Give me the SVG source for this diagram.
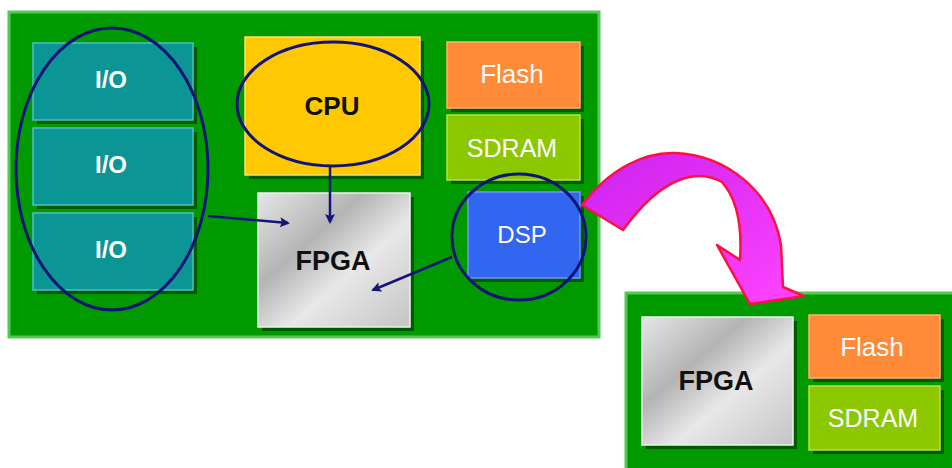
<svg xmlns="http://www.w3.org/2000/svg" width="952" height="468" viewBox="0 0 952 468">
  <defs>
    <linearGradient id="silver" x1="0" y1="0" x2="1" y2="1">
      <stop offset="0" stop-color="#e6e6e6"/>
      <stop offset="0.35" stop-color="#b4b4b4"/>
      <stop offset="0.6" stop-color="#e8e8e8"/>
      <stop offset="1" stop-color="#c4c4c4"/>
    </linearGradient>
    <linearGradient id="magenta" x1="0" y1="0" x2="1" y2="1">
      <stop offset="0" stop-color="#cc22ee"/>
      <stop offset="1" stop-color="#ff44ff"/>
    </linearGradient>
    <marker id="head" viewBox="0 0 10 10" refX="8" refY="5" markerWidth="4.4" markerHeight="4" orient="auto" markerUnits="strokeWidth">
      <path d="M0,0 L10,5 L0,10 L2,5 z" fill="#14147a"/>
    </marker>
  </defs>
  <style>
    .board { fill: #009a00; stroke: #55c855; stroke-width: 3; }
    .shadow { fill: #005a00; }
    .io { fill: #0b9595; stroke: #4fc0c0; stroke-width: 1.5; }
    .cpu { fill: #ffc800; stroke: #ffe070; stroke-width: 1.5; }
    .flash { fill: #ff8a38; stroke: #ffb070; stroke-width: 1.5; }
    .sdram { fill: #8cc800; stroke: #b8e040; stroke-width: 1.5; }
    .dsp { fill: #3366f0; stroke: #6e96ff; stroke-width: 1.5; }
    .fpga { fill: url(#silver); stroke: #f0f0f0; stroke-width: 1.5; }
    .ring { fill: none; stroke: #10147a; stroke-width: 3; }
    .wire { fill: none; stroke: #14147a; stroke-width: 2.5; marker-end: url(#head); }
    .lbl { font-family: "Liberation Sans", Arial, sans-serif; text-anchor: middle; }
    .w { fill: #ffffff; }
    .k { fill: #111111; font-weight: bold; }
  </style>

  <rect width="952" height="468" fill="#ffffff"/>

  <!-- main board -->
  <g id="board-main">
    <rect class="board" x="9" y="12" width="590" height="325"/>
  </g>

  <g id="io1">
    <rect class="shadow" x="37" y="47" width="160" height="77"/>
    <rect class="io" x="33" y="43" width="160" height="77"/>
    <text class="lbl w" x="111" y="88" font-size="24" font-weight="bold">I/O</text>
  </g>
  <g id="io2">
    <rect class="shadow" x="37" y="132" width="160" height="77"/>
    <rect class="io" x="33" y="128" width="160" height="77"/>
    <text class="lbl w" x="111" y="173" font-size="24" font-weight="bold">I/O</text>
  </g>
  <g id="io3">
    <rect class="shadow" x="37" y="217" width="160" height="77"/>
    <rect class="io" x="33" y="213" width="160" height="77"/>
    <text class="lbl w" x="111" y="258" font-size="24" font-weight="bold">I/O</text>
  </g>

  <g id="cpu">
    <rect class="shadow" x="249" y="41" width="175" height="138"/>
    <rect class="cpu" x="245" y="37" width="175" height="138"/>
    <text class="lbl k" x="332" y="115" font-size="26">CPU</text>
  </g>

  <g id="fpga">
    <rect class="shadow" x="262" y="197" width="152" height="134"/>
    <rect class="fpga" x="258" y="193" width="152" height="134"/>
    <text class="lbl k" x="333" y="270" font-size="27">FPGA</text>
  </g>

  <g id="flash">
    <rect class="shadow" x="451" y="46" width="133" height="66"/>
    <rect class="flash" x="447" y="42" width="133" height="66"/>
    <text class="lbl w" x="512" y="83" font-size="26">Flash</text>
  </g>

  <g id="sdram">
    <rect class="shadow" x="451" y="119" width="133" height="65"/>
    <rect class="sdram" x="447" y="115" width="133" height="65"/>
    <text class="lbl w" x="512" y="157" font-size="25">SDRAM</text>
  </g>

  <g id="dsp">
    <rect class="shadow" x="472" y="196" width="112" height="86"/>
    <rect class="dsp" x="468" y="192" width="112" height="86"/>
    <text class="lbl w" x="522" y="243" font-size="24">DSP</text>
  </g>

  <!-- highlight rings -->
  <g id="rings">
    <ellipse class="ring" cx="112" cy="169" rx="96" ry="141"/>
    <ellipse class="ring" cx="333" cy="104" rx="96" ry="62"/>
    <ellipse class="ring" cx="519" cy="237" rx="67" ry="63"/>
  </g>

  <!-- second board -->
  <g id="board-target">
    <rect class="board" x="626" y="293" width="340" height="190"/>
  </g>
  <g id="fpga2">
    <rect class="shadow" x="646" y="321" width="151" height="128"/>
    <rect class="fpga" x="642" y="317" width="151" height="128"/>
    <text class="lbl k" x="716" y="390" font-size="27">FPGA</text>
  </g>
  <g id="flash2">
    <rect class="shadow" x="813" y="319" width="131" height="63"/>
    <rect class="flash" x="809" y="315" width="131" height="63"/>
    <text class="lbl w" x="872" y="356" font-size="26">Flash</text>
  </g>
  <g id="sdram2">
    <rect class="shadow" x="813" y="390" width="131" height="64"/>
    <rect class="sdram" x="809" y="386" width="131" height="64"/>
    <text class="lbl w" x="873" y="427" font-size="25">SDRAM</text>
  </g>

  <!-- connectors -->
  <g id="connectors">
    <line class="wire" x1="208" y1="216" x2="288" y2="223"/>
    <line class="wire" x1="330" y1="167" x2="330" y2="222"/>
    <line class="wire" x1="452" y1="257" x2="373" y2="290"/>
    <path d="M582,205 C610,168 645,152 675,153 C725,155 772,190 781,245 L783,287 L804,296 L750,304 L717,245 L740,260 C742,230 738,200 722,182 C700,170 665,172 623,230 Z" fill="url(#magenta)" stroke="#ff1040" stroke-width="2.5" stroke-linejoin="round"/>
  </g>
</svg>
